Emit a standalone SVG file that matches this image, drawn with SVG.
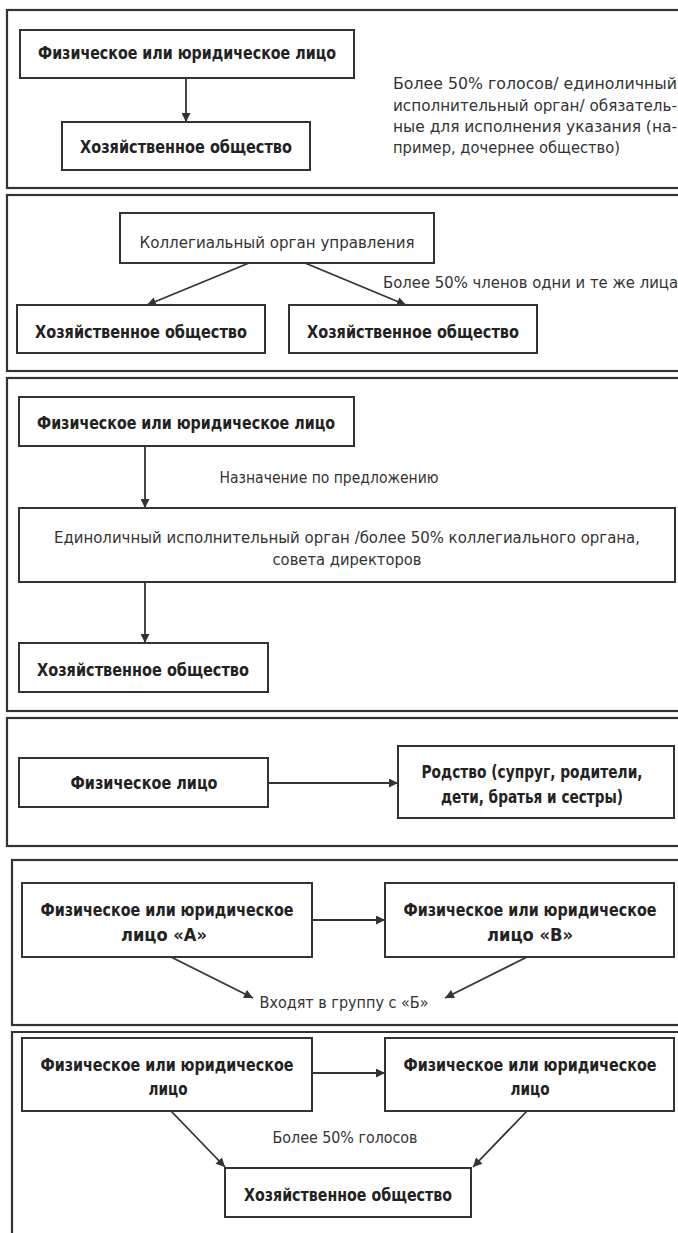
<svg xmlns="http://www.w3.org/2000/svg" width="678" height="1233" viewBox="0 0 678 1233">
<defs>
<marker id="ah" viewBox="0 0 10 10" refX="10" refY="5" markerWidth="10" markerHeight="9" orient="auto" markerUnits="userSpaceOnUse"><path d="M0,0 L10,5 L0,10 z" fill="#333"/></marker>
<style>
.panel{fill:none;stroke:#333;stroke-width:2.2}
.box{fill:#fff;stroke:#333;stroke-width:2}
.b{font-family:"Liberation Sans Narrow","DejaVu Sans Condensed","Liberation Sans",sans-serif;font-stretch:condensed;font-weight:bold;font-size:17px;fill:#222;text-anchor:middle}
.r{font-family:"Liberation Sans Narrow","DejaVu Sans Condensed","Liberation Sans",sans-serif;font-stretch:condensed;font-size:16.5px;fill:#333}
.m{text-anchor:middle}
.c{stroke:#333;stroke-width:1.8;fill:none;marker-end:url(#ah)}
</style>
</defs>
<rect width="678" height="1233" fill="#fff"/>
<g id="panels">
<rect class="panel" x="7" y="10" width="690" height="178"/>
<rect class="panel" x="7" y="195" width="690" height="176"/>
<rect class="panel" x="7" y="378" width="690" height="333"/>
<rect class="panel" x="7" y="718" width="690" height="128"/>
<rect class="panel" x="12" y="860" width="690" height="165"/>
<path class="panel" d="M12,1240 V1032 H698"/>
</g>
<g id="connectors">
<line class="c" x1="186" y1="78" x2="186" y2="122"/>
<line class="c" x1="249" y1="263" x2="147" y2="305"/>
<line class="c" x1="305" y1="263" x2="406" y2="305"/>
<line class="c" x1="145" y1="446" x2="145" y2="508"/>
<line class="c" x1="145" y1="582" x2="145" y2="643"/>
<line class="c" x1="268" y1="783" x2="398" y2="783"/>
<line class="c" x1="312" y1="920" x2="385" y2="920"/>
<line class="c" x1="171" y1="957" x2="253" y2="998"/>
<line class="c" x1="527" y1="957" x2="445" y2="998"/>
<line class="c" x1="312" y1="1073" x2="385" y2="1073"/>
<line class="c" x1="171" y1="1111" x2="225" y2="1167"/>
<line class="c" x1="527" y1="1111" x2="473" y2="1167"/>
</g>
<g id="n1a"><rect class="box" x="20" y="30" width="334" height="48"/><text class="b" x="187" y="59" textLength="298" lengthAdjust="spacingAndGlyphs">Физическое или юридическое лицо</text></g>
<g id="n1b"><rect class="box" x="62" y="122" width="248" height="48"/><text class="b" x="186" y="153" textLength="212" lengthAdjust="spacingAndGlyphs">Хозяйственное общество</text></g>
<g id="t1">
<text class="r" x="393" y="89" textLength="284" lengthAdjust="spacingAndGlyphs">Более 50% голосов/ единоличный</text>
<text class="r" x="393" y="111" textLength="284" lengthAdjust="spacingAndGlyphs">исполнительный орган/ обязатель-</text>
<text class="r" x="393" y="132" textLength="284" lengthAdjust="spacingAndGlyphs">ные для исполнения указания (на-</text>
<text class="r" x="393" y="153" textLength="227" lengthAdjust="spacingAndGlyphs">пример, дочернее общество)</text>
</g>
<g id="n2a"><rect class="box" x="120" y="213" width="314" height="50"/><text class="r m" x="277" y="248" textLength="275" lengthAdjust="spacingAndGlyphs">Коллегиальный орган управления</text></g>
<g id="t2"><text class="r" x="383" y="288" textLength="295" lengthAdjust="spacingAndGlyphs">Более 50% членов одни и те же лица</text></g>
<g id="n2b"><rect class="box" x="17" y="305" width="248" height="48"/><text class="b" x="141" y="338" textLength="212" lengthAdjust="spacingAndGlyphs">Хозяйственное общество</text></g>
<g id="n2c"><rect class="box" x="289" y="305" width="248" height="48"/><text class="b" x="413" y="338" textLength="212" lengthAdjust="spacingAndGlyphs">Хозяйственное общество</text></g>
<g id="n3a"><rect class="box" x="19" y="397" width="335" height="49"/><text class="b" x="186" y="429" textLength="298" lengthAdjust="spacingAndGlyphs">Физическое или юридическое лицо</text></g>
<g id="t3"><text class="r m" x="329" y="483" textLength="219" lengthAdjust="spacingAndGlyphs">Назначение по предложению</text></g>
<g id="n3b"><rect class="box" x="19" y="508" width="656" height="74"/>
<text class="r m" x="347" y="543" textLength="586" lengthAdjust="spacingAndGlyphs">Единоличный исполнительный орган /более 50% коллегиального органа,</text>
<text class="r m" x="347" y="565" textLength="149" lengthAdjust="spacingAndGlyphs">совета директоров</text></g>
<g id="n3c"><rect class="box" x="19" y="643" width="249" height="49"/><text class="b" x="143" y="676" textLength="212" lengthAdjust="spacingAndGlyphs">Хозяйственное общество</text></g>
<g id="n4a"><rect class="box" x="19" y="758" width="249" height="49"/><text class="b" x="144" y="789" textLength="147" lengthAdjust="spacingAndGlyphs">Физическое лицо</text></g>
<g id="n4b"><rect class="box" x="398" y="746" width="276" height="72"/>
<text class="b" x="532" y="778" textLength="221" lengthAdjust="spacingAndGlyphs">Родство (супруг, родители,</text>
<text class="b" x="532" y="803" textLength="182" lengthAdjust="spacingAndGlyphs">дети, братья и сестры)</text></g>
<g id="n5a"><rect class="box" x="22" y="883" width="290" height="74"/>
<text class="b" x="167" y="916" textLength="253" lengthAdjust="spacingAndGlyphs">Физическое или юридическое</text>
<text class="b" x="164" y="941" textLength="86" lengthAdjust="spacingAndGlyphs">лицо «А»</text></g>
<g id="n5b"><rect class="box" x="385" y="883" width="289" height="74"/>
<text class="b" x="530" y="916" textLength="253" lengthAdjust="spacingAndGlyphs">Физическое или юридическое</text>
<text class="b" x="530" y="941" textLength="86" lengthAdjust="spacingAndGlyphs">лицо «В»</text></g>
<g id="t5"><text class="r m" x="344" y="1008" textLength="169" lengthAdjust="spacingAndGlyphs">Входят в группу с «Б»</text></g>
<g id="n6a"><rect class="box" x="22" y="1038" width="290" height="73"/>
<text class="b" x="167" y="1071" textLength="253" lengthAdjust="spacingAndGlyphs">Физическое или юридическое</text>
<text class="b" x="168" y="1095" textLength="39" lengthAdjust="spacingAndGlyphs">лицо</text></g>
<g id="n6b"><rect class="box" x="385" y="1038" width="289" height="73"/>
<text class="b" x="530" y="1071" textLength="253" lengthAdjust="spacingAndGlyphs">Физическое или юридическое</text>
<text class="b" x="530" y="1095" textLength="39" lengthAdjust="spacingAndGlyphs">лицо</text></g>
<g id="t6"><text class="r m" x="345" y="1143" textLength="145" lengthAdjust="spacingAndGlyphs">Более 50% голосов</text></g>
<g id="n6c"><rect class="box" x="225" y="1168" width="246" height="49"/><text class="b" x="348" y="1201" textLength="208" lengthAdjust="spacingAndGlyphs">Хозяйственное общество</text></g>
</svg>
